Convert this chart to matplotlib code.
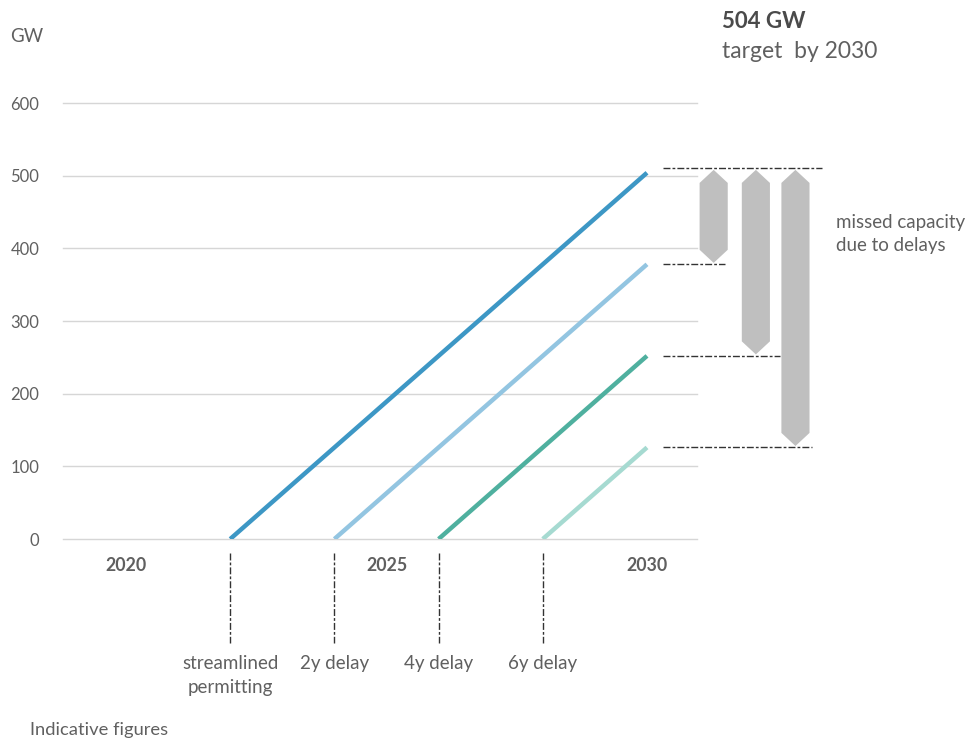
import matplotlib
matplotlib.use("Agg")
from matplotlib import pyplot as plt
from matplotlib.patches import Polygon

plt.rcParams["font.family"] = ["Lato", "DejaVu Sans"]

# permitting scenarios: year the build-out starts and capacity reached by 2030
scenarios = ["streamlined\npermitting", "2y delay", "4y delay", "6y delay"]
start_years = [2022, 2024, 2026, 2028]
end_year = 2030
capacity_2030 = [504, 378, 252, 126]
target_gw = 504
colors = ["#3d97c5", "#93c5e1", "#4fb09f", "#a6dad1"]

y_ticks = [0, 100, 200, 300, 400, 500, 600]
year_ticks = [2020, 2025, 2030]

text_grey = "#606060"

fig = plt.figure(figsize=(9.71, 7.40), dpi=100)
ax = fig.add_axes([63 / 971, 1 - 539 / 740, 634 / 971, 436 / 740])
ax.set_xlim(2018.79, 2030.96)
ax.set_ylim(0, 600)

for s in ax.spines.values():
    s.set_visible(False)
for y in y_ticks:
    ax.axhline(y, color="#d6d6d6", lw=1.0, zorder=1, clip_on=False)

ax.set_yticks(y_ticks)
ax.set_yticklabels([str(v) for v in y_ticks], fontsize=12, color=text_grey)
ax.tick_params(axis="y", length=0, pad=17)
ax.set_xticks(year_ticks)
ax.set_xticklabels([str(v) for v in year_ticks], fontsize=12.8, color=text_grey,
                   fontweight="bold")
ax.tick_params(axis="x", length=0, pad=13)

for x0, cap, c in zip(start_years, capacity_2030, colors):
    ax.plot([x0, end_year], [0, cap], color=c, lw=3.2, solid_capstyle="butt", zorder=3)

# vertical markers below the axis with scenario labels
dash = (0, (5, 1.5, 2, 1.5))
for x0, lab in zip(start_years, scenarios):
    ax.plot([x0, x0], [-19, -143], color="#333333", lw=1.0, ls=dash, clip_on=False)
    ax.text(x0, -159, lab, ha="center", va="top", fontsize=13.5, color=text_grey,
            linespacing=1.5)

# missed capacity bars (double pointed) and the dashed reference lines
bar_x = [2031.28, 2032.09, 2032.85]
line_end = [2031.49, 2032.55, 2033.16]
half_w = 0.27
tip = 18
ax.plot([2030.31, 2033.35], [target_gw + 6, target_gw + 6], color="#333333", lw=1.0,
        ls=dash, clip_on=False)
for cx, cap, xe in zip(bar_x, capacity_2030[1:], line_end):
    ax.plot([2030.31, xe], [cap, cap], color="#333333", lw=1.0, ls=dash, clip_on=False)
    top, bot = target_gw + 4, cap + 2
    pts = [(cx, top), (cx + half_w, top - tip), (cx + half_w, bot + tip),
           (cx, bot), (cx - half_w, bot + tip), (cx - half_w, top - tip)]
    ax.add_patch(Polygon(pts, closed=True, facecolor="#bfbfbf", edgecolor="none",
                         clip_on=False, zorder=2))

fig.text(836 / 971, 1 - 234 / 740, "missed capacity\ndue to delays", ha="left",
         va="center", fontsize=13.5, color=text_grey, linespacing=1.4)

fig.text(10 / 971, 1 - 36 / 740, "GW", ha="left", va="center", fontsize=13.5,
         color=text_grey)
fig.text(722 / 971, 1 - 21 / 740, "504 GW", ha="left", va="center", fontsize=16,
         fontweight="bold", color="#4a4a4a")
fig.text(722 / 971, 1 - 52 / 740, "target  by 2030", ha="left", va="center",
         fontsize=16.5, color=text_grey)
fig.text(30 / 971, 1 - 730 / 740, "Indicative figures", ha="left", va="center",
         fontsize=13.2, color=text_grey)

fig.savefig("out.png", dpi=100)
